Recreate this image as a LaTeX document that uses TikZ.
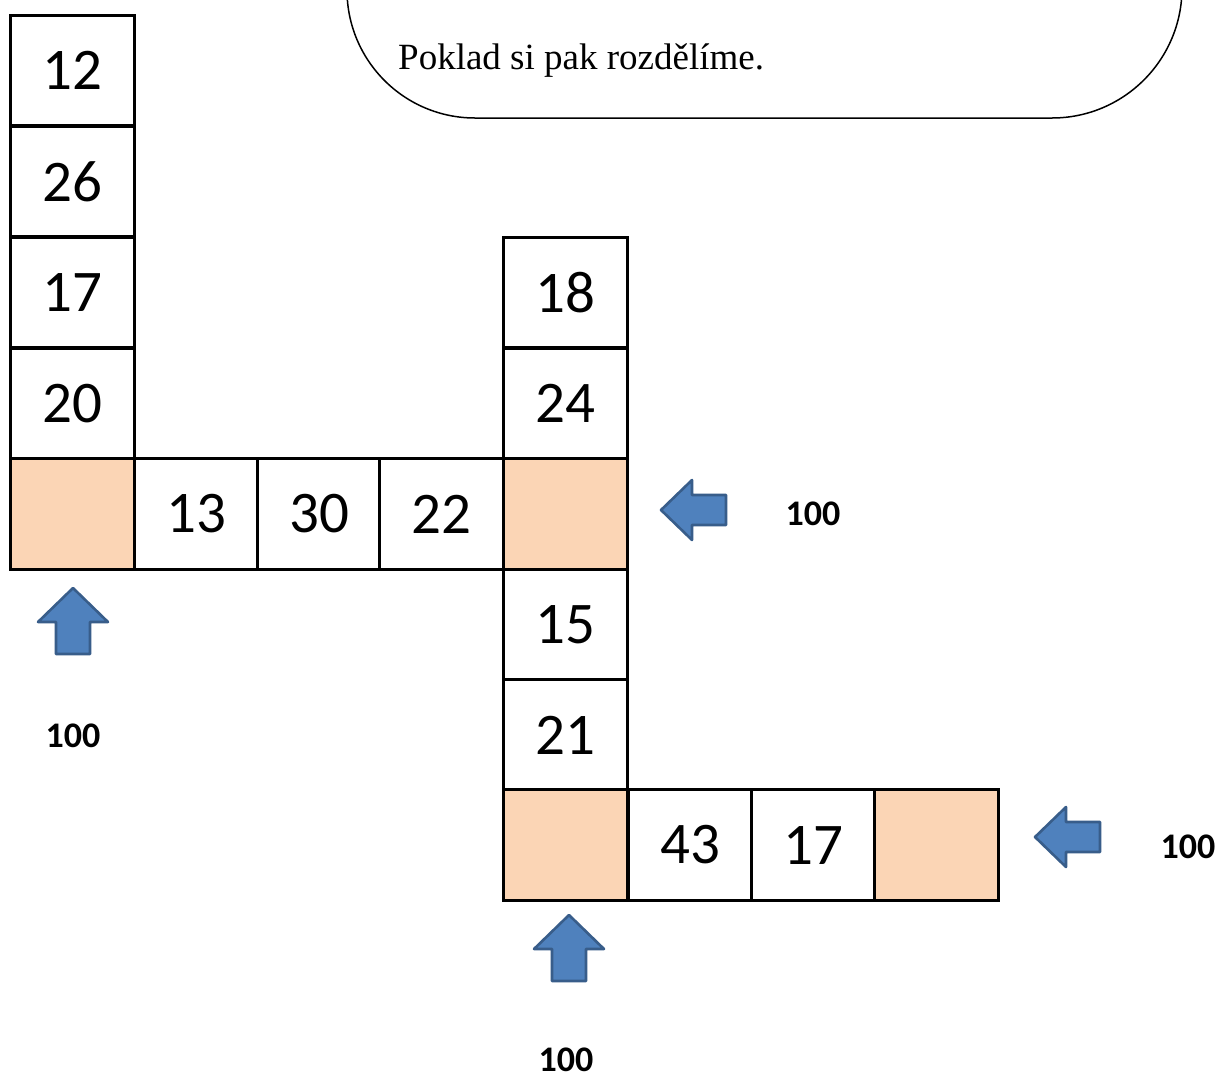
\documentclass[tikz,border=0pt]{standalone}
\usepackage{fontspec}
\setmainfont{Liberation Serif}
\newfontfamily\calib{Carlito}
\definecolor{peach}{HTML}{FBD5B5}
\definecolor{arrfill}{HTML}{4F81BD}
\definecolor{arrline}{HTML}{385D8A}
\tikzset{
  cell/.style={draw=black, line width=3pt, minimum width=123.5pt, minimum height=110.6pt, inner sep=0pt, fill=white,
    font=\calib\fontsize{59}{61}\selectfont},
  blank/.style={cell, fill=peach},
  lab/.style={inner sep=0pt, font=\calib\bfseries\fontsize{36}{38}\selectfont},
  arr/.style={fill=arrfill, draw=arrline, line width=2.6pt, line join=round},
  uparrow/.pic={\path[arr] (0,0) -- (35,34) -- (17,34) -- (17,66) -- (-17,66) -- (-17,34) -- (-35,34) -- cycle;},
  leftarrow/.pic={\path[arr] (0,0) -- (31,-30) -- (31,-15) -- (65,-15) -- (65,15) -- (31,15) -- (31,30) -- cycle;}
}
\begin{document}
\begin{tikzpicture}[x=1pt,y=-1pt]
\useasboundingbox (0,0) rectangle (1222,1077);
\fill[white] (0,0) rectangle (1222,1077);
% speech bubble
\begin{scope}
\clip (0,0) rectangle (1222,1077);
\draw[line width=1.5pt, fill=white] (347,-40) -- (347,-10) arc[start angle=180, end angle=90, radius=128]
  -- (1052,118) arc[start angle=90, end angle=0, radius=130] -- (1182,-40);
\end{scope}
\node[anchor=base west, inner sep=0pt, font=\fontsize{37}{40}\selectfont] (txt) at (398,69) {Poklad si pak rozdělíme.};
% left column
\node[cell] (a1) at (72.5,70.5) {12};
\node[cell] (a2) at (72.5,181.5) {26};
\node[cell] (a3) at (72.5,292.5) {17};
\node[cell] (a4) at (72.5,403.5) {20};
\node[blank] (a5) at (72.5,514) {};
% middle row
\node[cell] (b1) at (196.5,514) {13};
\node[cell] (b2) at (319,514) {30};
\node[cell] (b3) at (441.5,514) {22};
% right column
\node[cell] (c1) at (565.5,292.5) {18};
\node[cell] (c2) at (565.5,403.5) {24};
\node[blank] (c3) at (565.5,514) {};
\node[cell] (c4) at (565.5,624.5) {15};
\node[cell] (c5) at (565.5,735) {21};
\node[blank] (c6) at (565.5,845) {};
% bottom row
\node[cell] (d1) at (690,845) {43};
\node[cell] (d2) at (813.5,845) {17};
\node[blank] (d3) at (936.5,845) {};
% arrows
\pic at (73,588) {uparrow};
\pic at (569,915) {uparrow};
\pic at (661,510) {leftarrow};
\pic at (1035,837) {leftarrow};
% labels
\node[lab] (l1) at (813,514) {100};
\node[lab] (l2) at (73,736) {100};
\node[lab] (l3) at (1188,847) {100};
\node[lab] (l4) at (566,1060) {100};
\end{tikzpicture}
\end{document}
